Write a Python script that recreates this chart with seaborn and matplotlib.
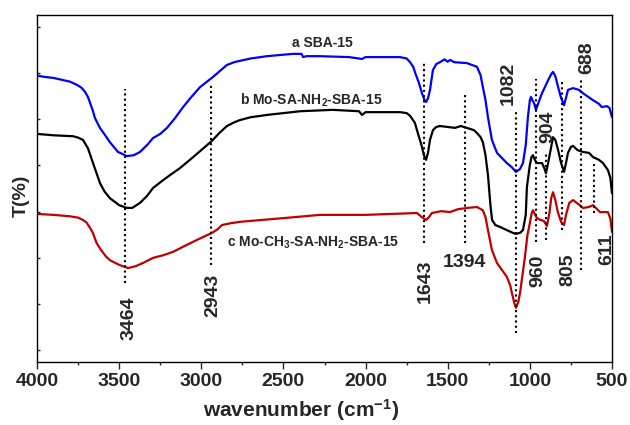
import numpy as np
import pandas as pd
import matplotlib
matplotlib.use("Agg")
import matplotlib.pyplot as plt
import seaborn as sns
from matplotlib.ticker import MultipleLocator

# ---- FTIR spectra (wavenumber in cm-1, transmittance in arbitrary offset units) ----
wn_a = [4000, 3950, 3900, 3850, 3800, 3757, 3730, 3708, 3690, 3677, 3660, 3647, 3617,
        3585, 3556, 3507, 3452, 3410, 3373, 3330, 3294, 3250, 3209, 3160, 3111, 3060,
        3008, 2929, 2880, 2844, 2800, 2764, 2700, 2600, 2442, 2390, 2380, 2360, 2277,
        2100, 2022, 2000, 1790, 1750, 1729, 1710, 1698, 1675, 1657, 1640, 1632, 1620,
        1608, 1590, 1570, 1547, 1520, 1500, 1486, 1460, 1383, 1322, 1300, 1286, 1270,
        1255, 1231, 1200, 1170, 1140, 1110, 1085, 1060, 1042, 1025, 1012, 1000, 993,
        985, 975, 963, 950, 926, 889, 870, 859, 845, 828, 810, 792, 780, 768, 737,
        700, 677, 616, 580, 562, 531, 515, 500]
t_a = [61.9, 61.6, 61.4, 61.0, 60.6, 59.9, 59.3, 58.4, 57.3, 56.0, 54.3, 52.7, 50.6,
       49.0, 47.5, 45.4, 44.5, 44.7, 45.4, 46.9, 48.4, 49.3, 50.6, 52.7, 55.1, 57.3,
       59.4, 61.6, 63.1, 64.2, 64.8, 65.1, 65.6, 66.1, 66.6, 66.6, 65.9, 66.1, 66.1,
       65.9, 65.5, 65.9, 65.9, 65.6, 64.8, 63.8, 62.5, 60.3, 58.1, 56.5, 56.2, 57.0,
       58.8, 63.1, 64.4, 64.8, 65.4, 64.9, 65.3, 64.8, 64.6, 63.8, 62.0, 59.4, 56.6,
       52.9, 48.0, 45.2, 44.1, 43.0, 42.1, 41.1, 41.7, 43.0, 46.9, 52.9, 56.6, 57.3,
       56.6, 56.0, 54.5, 55.8, 58.1, 60.9, 62.2, 62.7, 61.8, 59.4, 57.1, 55.5, 57.1,
       58.8, 59.2, 58.8, 58.1, 56.6, 55.8, 55.1, 55.3, 54.9, 52.9]

wn_b = [4000, 3900, 3781, 3750, 3720, 3690, 3659, 3617, 3590, 3556, 3500, 3452, 3420,
        3373, 3330, 3294, 3240, 3190, 3130, 3069, 3000, 2935, 2890, 2844, 2800, 2764,
        2700, 2600, 2399, 2200, 2040, 2022, 2000, 1790, 1750, 1729, 1700, 1687, 1660,
        1645, 1632, 1620, 1608, 1590, 1570, 1547, 1500, 1456, 1420, 1383, 1340, 1322,
        1300, 1286, 1270, 1255, 1240, 1230, 1210, 1182, 1140, 1103, 1085, 1060, 1042,
        1025, 1018, 1000, 990, 981, 970, 957, 926, 912, 902, 889, 877, 859, 845, 828,
        810, 792, 780, 768, 750, 737, 710, 677, 640, 616, 580, 555, 525, 510, 500]
t_b = [49.3, 49.0, 48.8, 48.5, 48.0, 46.2, 43.0, 38.7, 36.9, 35.4, 33.9, 33.3, 33.3,
       34.4, 35.9, 37.6, 39.1, 40.4, 41.9, 43.7, 45.8, 47.8, 49.5, 51.0, 51.8, 52.3,
       52.9, 53.4, 54.2, 54.5, 54.2, 53.4, 54.0, 54.0, 53.8, 53.2, 51.7, 50.1, 46.9,
       44.7, 43.7, 45.2, 48.0, 50.1, 50.8, 51.0, 50.8, 50.6, 51.0, 50.6, 50.1, 49.5,
       48.6, 47.5, 44.7, 40.4, 33.9, 30.7, 29.6, 29.2, 28.5, 27.9, 27.7, 27.9, 28.5,
       31.8, 37.8, 42.6, 44.3, 44.7, 43.7, 43.0, 43.0, 41.9, 40.8, 43.0, 45.2, 48.6,
       48.0, 45.8, 43.0, 41.1, 43.0, 45.2, 46.5, 46.7, 45.8, 45.4, 45.2, 44.3, 43.7,
       43.0, 41.5, 39.8, 36.5]

wn_c = [4000, 3900, 3800, 3750, 3720, 3700, 3677, 3660, 3637, 3610, 3580, 3556, 3500,
        3446, 3400, 3355, 3294, 3230, 3172, 3100, 3026, 2935, 2900, 2874, 2820, 2764,
        2500, 2277, 2000, 1687, 1657, 1632, 1615, 1596, 1540, 1486, 1440, 1383, 1322,
        1286, 1270, 1255, 1231, 1200, 1170, 1140, 1120, 1109, 1095, 1085, 1070, 1060,
        1045, 1030, 1015, 1000, 990, 981, 970, 957, 935, 915, 896, 880, 870, 859, 845,
        830, 810, 792, 780, 760, 737, 700, 677, 640, 616, 590, 573, 525, 510, 500]
t_c = [32.0, 31.8, 31.5, 31.2, 30.7, 30.2, 29.0, 27.9, 25.7, 24.2, 22.8, 22.0, 21.0,
       20.3, 20.7, 21.4, 22.5, 23.1, 23.8, 25.1, 26.4, 27.9, 28.7, 29.6, 30.0, 30.3,
       31.1, 31.8, 31.8, 32.2, 31.3, 30.7, 31.3, 32.2, 32.6, 32.4, 33.0, 33.3, 33.5,
       32.8, 31.3, 28.5, 24.2, 21.4, 19.9, 18.4, 16.6, 14.9, 12.8, 11.7, 13.0, 14.9,
       18.8, 22.7, 27.4, 30.0, 32.0, 32.8, 32.0, 31.1, 30.7, 30.5, 29.4, 32.4, 35.4,
       36.7, 35.0, 32.4, 30.3, 29.6, 31.8, 34.4, 35.0, 34.0, 33.3, 33.5, 33.9, 33.0,
       32.4, 32.4, 31.0, 28.1]

series_colors = ["#0000FF", "#000000", "#C00000"]

# ---- peak assignments: dotted markers and their labels ----
peak_wn = [3464, 2943, 1643, 1394, 1082, 960, 904, 805, 688, 611]
peak_top = [59.0, 60.3, 65.1, 58.1, 54.0, 61.2, 45.2, 60.7, 60.9, 43.2]
peak_bottom = [17.1, 21.0, 25.7, 25.7, 6.3, 25.9, 26.4, 28.5, 19.9, 32.2]
peak_text = ["3464", "2943", "1643", "1394", "1082", "960", "904", "805", "688", "611"]
peak_text_x = [3440, 2929, 1638, 1401, 1133, 951, 890, 768, 652, 531]
peak_text_y = [9.5, 14.5, 17.5, 21.4, 60.3, 19.7, 50.8, 19.9, 65.7, 24.4]
peak_text_rot = [90, 90, 90, 0, 90, 90, 90, 90, 90, 90]

curve_labels = ["a SBA-15", r"b Mo-SA-NH$_2$-SBA-15", r"c Mo-CH$_3$-SA-NH$_2$-SBA-15"]
curve_label_x = [2448, 2764, 2843]
curve_label_y = [68.9, 56.6, 25.7]

sns.set_style("ticks")
plt.rcParams["font.family"] = ["Liberation Sans", "DejaVu Sans"]
plt.rcParams["font.weight"] = "bold"
plt.rcParams["mathtext.fontset"] = "custom"
plt.rcParams["mathtext.rm"] = "Liberation Sans:bold"
plt.rcParams["mathtext.bf"] = "Liberation Sans:bold"
plt.rcParams["mathtext.it"] = "Liberation Sans:bold"
plt.rcParams["mathtext.default"] = "bf"

fig = plt.figure(figsize=(6.3, 4.25), dpi=100)
ax = fig.add_axes([37 / 630, 1 - 362 / 425, 575 / 630, 347 / 425])

for wn, t, col in zip([wn_a, wn_b, wn_c], [t_a, t_b, t_c], series_colors):
    df = pd.DataFrame({"wavenumber": wn, "T": t})
    sns.lineplot(data=df, x="wavenumber", y="T", color=col, lw=1.6,
                 sort=False, estimator=None, ax=ax)

for x, y0, y1 in zip(peak_wn, peak_bottom, peak_top):
    ax.plot([x, x], [y0, y1], color="black", lw=1.5, ls=(0, (1, 1.5)))

for s, x, y, r in zip(peak_text, peak_text_x, peak_text_y, peak_text_rot):
    ax.text(x, y, s, rotation=r, ha="center", va="center",
            fontsize=14, fontweight="bold")

for s, x, y in zip(curve_labels, curve_label_x, curve_label_y):
    ax.text(x, y, s, ha="left", va="center", fontsize=10, fontweight="bold")

ax.set_xlim(4000, 500)
ax.set_ylim(0, 75)
ax.xaxis.set_major_locator(MultipleLocator(500))
ax.xaxis.set_minor_locator(MultipleLocator(250))
ax.set_yticks(np.arange(2.5, 75, 10))
ax.set_yticklabels([])
ax.tick_params(axis="x", which="major", direction="out", length=5, width=1,
               labelsize=14, pad=3)
ax.tick_params(axis="x", which="minor", direction="out", length=2.5, width=1)
ax.tick_params(axis="y", which="major", direction="in", length=2.5, width=1)
for lab in ax.get_xticklabels():
    lab.set_fontweight("bold")

for sp in ax.spines.values():
    sp.set_visible(True)
    sp.set_color("black")
    sp.set_linewidth(1.0)

ax.set_xlabel(r"wavenumber (cm$^{-1}$)", fontsize=15, fontweight="bold")
ax.set_ylabel("T(%)", fontsize=14, fontweight="bold")
ax.xaxis.set_label_coords(0.459, -0.102)
ax.yaxis.set_label_coords(-0.012, 0.48)

fig.savefig("out.png", dpi=100)
